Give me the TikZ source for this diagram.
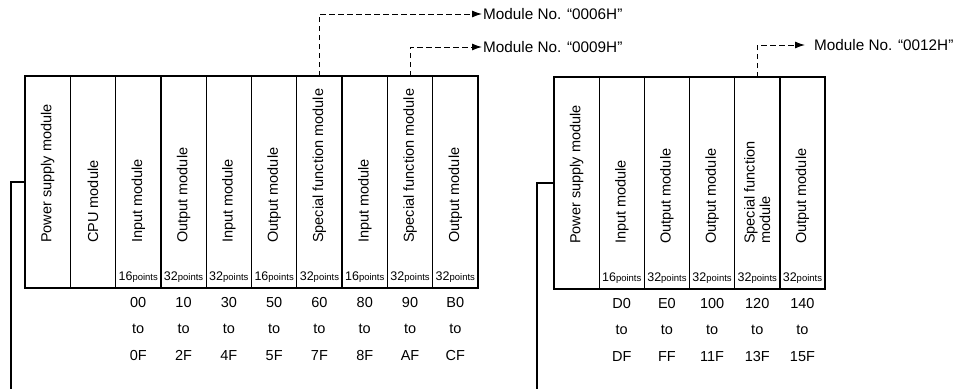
\documentclass[tikz,border=0pt]{standalone}
\usepackage{fontspec}
\setmainfont{Liberation Sans}
\usetikzlibrary{arrows.meta,calc}
\begin{document}
\begin{tikzpicture}[x=1pt,y=-1pt,
  mod/.style={draw, line width=1.3pt, minimum width=45.3pt, minimum height=212pt, inner sep=0pt, outer sep=0pt, anchor=north west},
  rmod/.style={mod, minimum width=45.17pt},
  rot/.style={rotate=90, anchor=west, inner sep=0pt, font=\fontsize{14.5}{15.5}\selectfont, align=left},
  pts/.style={anchor=base, inner sep=0pt, font=\fontsize{12.5}{12.5}\selectfont},
  addr/.style={anchor=base, inner sep=0pt, font=\fontsize{14.5}{14.5}\selectfont},
  lab/.style={anchor=west, inner sep=1pt, font=\fontsize{15.3}{15.3}\selectfont},
  dconn/.style={dash pattern=on 5.5pt off 3.5pt, line width=1pt, -{Latex[length=10pt,width=7pt]}},
  wire/.style={line width=1.3pt}]
\useasboundingbox (0,0) rectangle (961,389);
\newcommand{\pt}[1]{#1{\fontsize{9.5}{9.5}\selectfont points}}
% left rack
\foreach \i in {1,...,10} \node[mod] (m\i) at ({25+(\i-1)*45.3},76) {};
\foreach \i/\t in {1/Power supply module,2/CPU module,3/Input module,4/Output module,5/Input module,6/Output module,7/Special function module,8/Input module,9/Special function module,10/Output module}
  \node[rot] (mt\i) at ([yshift=45pt]m\i.south) {\t};
\foreach \i/\n/\a/\b in {3/16/00/0F,4/32/10/2F,5/32/30/4F,6/16/50/5F,7/32/60/7F,8/16/80/8F,9/32/90/AF,10/32/B0/CF}{
  \node[pts] (mp\i) at ([yshift=8pt]m\i.south) {\pt{\n}};
  \node[addr] (ma\i) at ([yshift=-19pt]m\i.south) {\a};
  \node[addr] (mb\i) at ([yshift=-45pt]m\i.south) {to};
  \node[addr] (mc\i) at ([yshift=-72pt]m\i.south) {\b};
}
% right rack
\foreach \i in {1,...,6} \node[rmod] (n\i) at ({554+(\i-1)*45.17},77) {};
\foreach \i/\t in {1/Power supply module,2/Input module,3/Output module,4/Output module,5/{Special function\\module},6/Output module}
  \node[rot] (nt\i) at ([yshift=45pt]n\i.south) {\t};
\foreach \i/\n/\a/\b in {2/16/D0/DF,3/32/E0/FF,4/32/100/11F,5/32/120/13F,6/32/140/15F}{
  \node[pts] (np\i) at ([yshift=8pt]n\i.south) {\pt{\n}};
  \node[addr] (na\i) at ([yshift=-19pt]n\i.south) {\a};
  \node[addr] (nb\i) at ([yshift=-45pt]n\i.south) {to};
  \node[addr] (nc\i) at ([yshift=-72pt]n\i.south) {\b};
}
% module number labels
\node[lab] (l1) at (482,14) {Module No. “0006H”};
\node[lab] (l2) at (482,47) {Module No. “0009H”};
\node[lab] (l3) at (813,45) {Module No. “0012H”};
\draw[dconn] (m7.north) |- (l1.west);
\draw[dconn] (m9.north) |- (l2.west);
\draw[dconn, shorten >=8pt] (n5.north) |- (l3.west);
% side wires
\coordinate (e1) at (11,389);
\coordinate (e2) at (537,389);
\draw[wire] (m1.west) -| (e1);
\draw[wire] (n1.west) -| (e2);
\end{tikzpicture}
\end{document}
